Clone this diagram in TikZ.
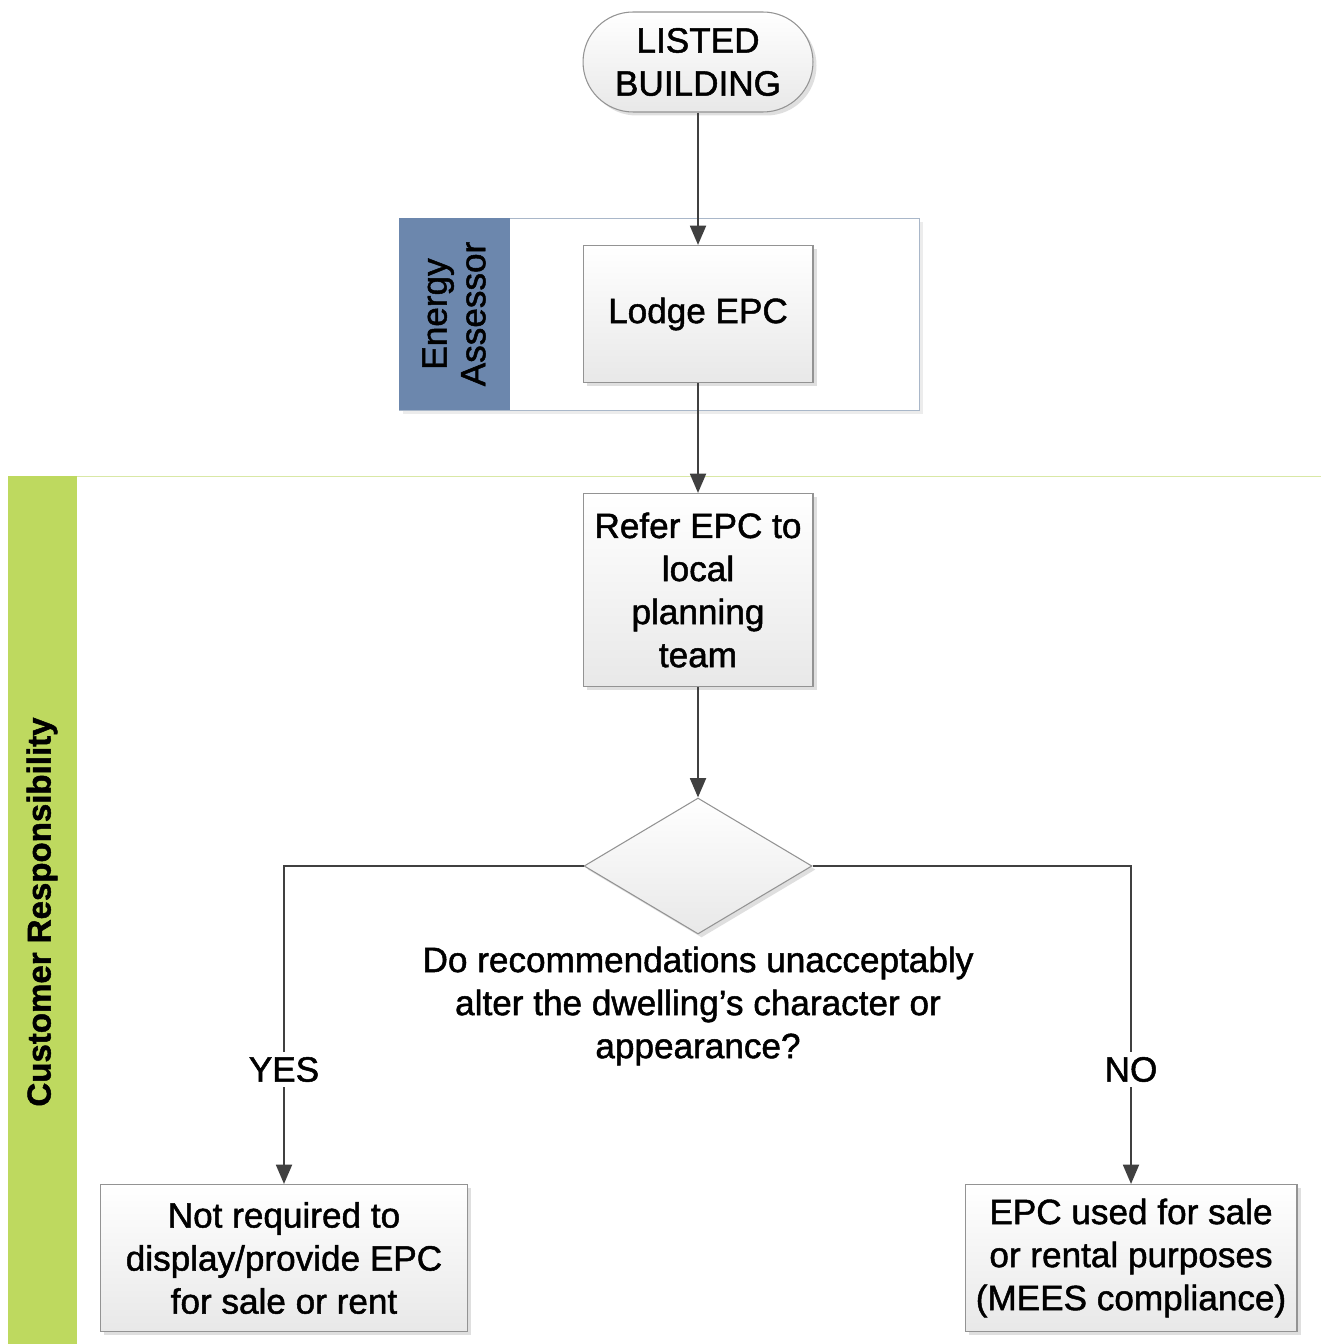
\documentclass[tikz,border=0pt]{standalone}
\usepackage{fontspec}
\setmainfont{Liberation Sans}[FakeBold=1.4]
\usepackage{xcolor}
\usetikzlibrary{shapes.geometric,shadows,arrows.meta}

\definecolor{assessorblue}{HTML}{6C87AD}
\definecolor{assessoredge}{HTML}{A9B7C9}
\definecolor{customergreen}{HTML}{BED95F}
\definecolor{customeredge}{HTML}{D9E8A6}
\definecolor{flowgray}{HTML}{404040}

\begin{document}
\begin{tikzpicture}[x=0.02cm,y=-0.02cm,>={Triangle[length=11pt,width=9pt]},
  box/.style={draw=gray!85,line width=0.6pt,top color=white,bottom color=black!9,
    drop shadow={shadow xshift=2pt,shadow yshift=-2pt,opacity=0.25},
    align=center,font=\fontsize{20}{24.5}\selectfont,inner sep=2pt},
  term/.style={box,rounded corners=1cm},
  decision/.style={box,diamond,inner sep=0pt},
  flow/.style={draw=flowgray,line width=1.4pt},
  answer/.style={fill=white,inner sep=3pt,font=\fontsize{20}{20}\selectfont},
  lanelabel/.style={rotate=90,align=center,font=\fontsize{20}{22}\selectfont}]
\useasboundingbox (0,0) rectangle (1320,1344);

% swim lanes
\draw[assessoredge,fill=white,drop shadow={shadow xshift=2pt,shadow yshift=-2pt,opacity=0.15}]
  (399,218) rectangle (919,410);
\fill[assessorblue] (399,218) rectangle (510,410);
\node[lanelabel] (assessor) at (454,314) {Energy\\Assessor};
\draw[customeredge,fill=white] (8,476) rectangle (1330,1350);
\fill[customergreen] (8,476) rectangle (77,1350);
\node[lanelabel,font=\fontsize{18.8}{22}\selectfont\bfseries] (customer) at (42,912) {Customer Responsibility};

% steps
\node[term,minimum width=4.6cm,minimum height=2cm] (listed) at (698,62) {LISTED\\BUILDING};
\node[box,minimum width=4.6cm,minimum height=2.74cm] (lodge) at (698,314) {Lodge EPC};
\node[box,minimum width=4.6cm,minimum height=3.86cm] (refer) at (698,590) {Refer EPC to\\local\\planning\\team};
\node[decision,minimum width=4.56cm,minimum height=2.72cm] (question) at (698,866) {};
\node[align=center,font=\fontsize{20}{24.5}\selectfont] (qtext) at (698,1006)
  {Do recommendations unacceptably\\alter the dwelling's character or\\appearance?};
\node[box,minimum width=7.36cm,minimum height=2.94cm] (notreq) at (284,1258)
  {Not required to\\display/provide EPC\\for sale or rent};
\node[box,minimum width=6.64cm,minimum height=2.94cm] (used) at (1131,1258)
  {EPC used for sale\\or rental purposes\\(MEES compliance)};

% connectors
\draw[flow,->] (listed) -- (lodge);
\draw[flow,->] (lodge) -- (refer);
\draw[flow,->] (refer) -- (question);
\draw[flow,->] (question.west) -| node[answer,pos=0.82] {YES} (notreq);
\draw[flow,->] (question.east) -| node[answer,pos=0.82] {NO} (used);
\end{tikzpicture}
\end{document}
